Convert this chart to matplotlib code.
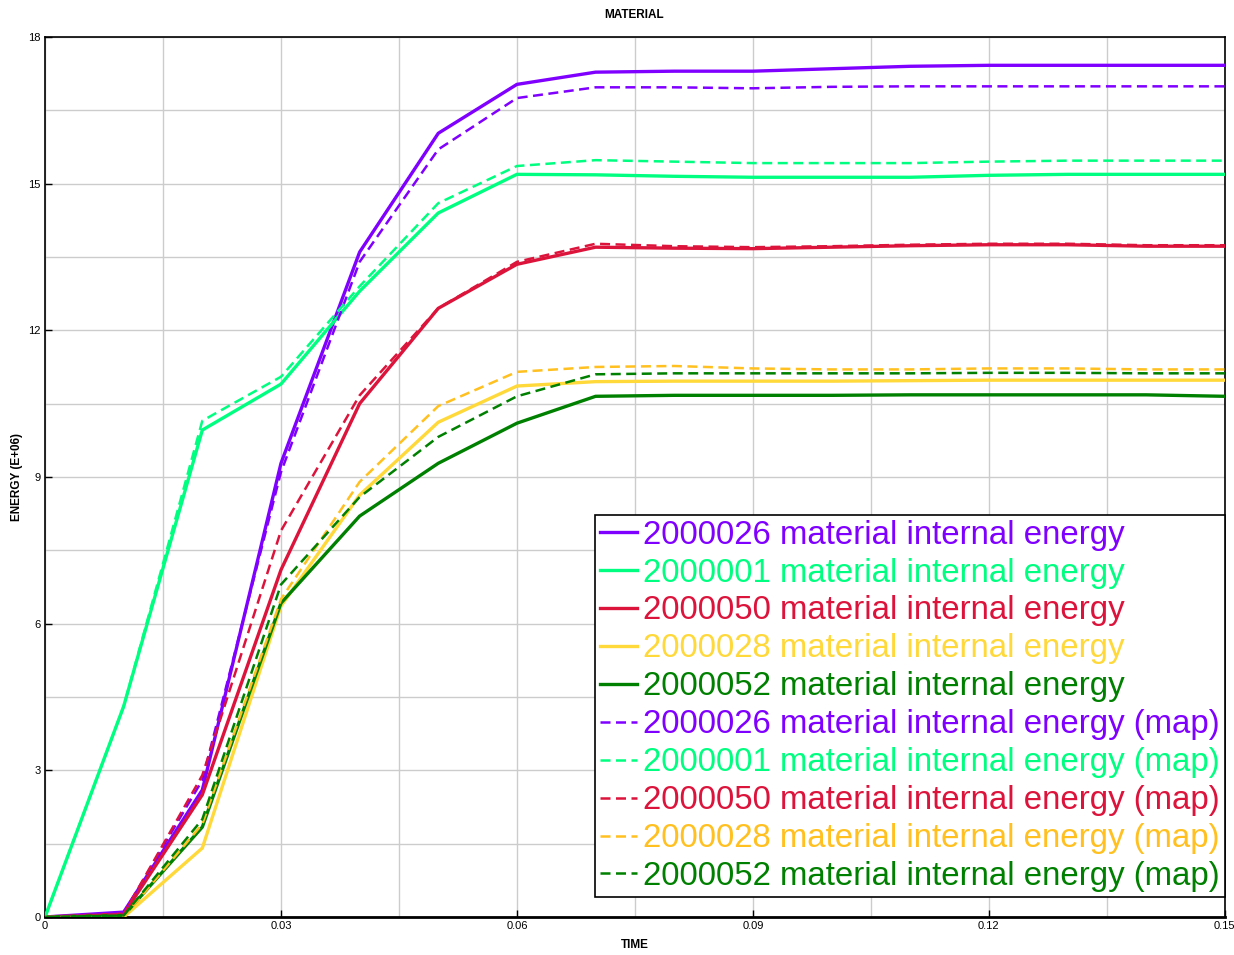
import matplotlib
matplotlib.use("Agg")
import matplotlib.pyplot as plt
from matplotlib.ticker import MultipleLocator, FuncFormatter

plt.rcParams["font.family"] = ["Liberation Sans", "DejaVu Sans"]

# time points
time = [0.0, 0.01, 0.02, 0.03, 0.04, 0.05, 0.06, 0.07, 0.08, 0.09, 0.10, 0.11, 0.12, 0.13, 0.14, 0.15]

# material internal energy (E+06)
e_2000026 = [0, 0.10, 2.60, 9.28, 13.60, 16.03, 17.03, 17.28, 17.30, 17.30, 17.35, 17.40, 17.42, 17.42, 17.42, 17.42]
e_2000001 = [0, 4.31, 9.96, 10.90, 12.80, 14.40, 15.19, 15.18, 15.15, 15.13, 15.13, 15.13, 15.17, 15.19, 15.19, 15.19]
e_2000050 = [0, 0.06, 2.50, 7.10, 10.50, 12.45, 13.35, 13.70, 13.68, 13.67, 13.70, 13.73, 13.75, 13.75, 13.72, 13.72]
e_2000028 = [0, 0.00, 1.41, 6.36, 8.63, 10.12, 10.86, 10.95, 10.96, 10.96, 10.96, 10.97, 10.98, 10.98, 10.98, 10.98]
e_2000052 = [0, 0.03, 1.84, 6.42, 8.20, 9.28, 10.10, 10.65, 10.67, 10.67, 10.67, 10.68, 10.68, 10.68, 10.68, 10.65]

m_2000026 = [0, 0.08, 2.80, 9.10, 13.40, 15.70, 16.75, 16.97, 16.97, 16.95, 16.98, 16.99, 16.99, 16.99, 16.99, 16.99]
m_2000001 = [0, 4.31, 10.15, 11.05, 12.90, 14.60, 15.36, 15.48, 15.45, 15.42, 15.42, 15.42, 15.45, 15.47, 15.47, 15.47]
m_2000050 = [0, 0.06, 2.90, 7.90, 10.67, 12.45, 13.40, 13.77, 13.72, 13.70, 13.72, 13.75, 13.77, 13.77, 13.74, 13.74]
m_2000028 = [0, 0.00, 1.90, 6.50, 8.90, 10.45, 11.15, 11.25, 11.27, 11.22, 11.20, 11.20, 11.22, 11.22, 11.20, 11.20]
m_2000052 = [0, 0.03, 2.00, 6.80, 8.59, 9.82, 10.65, 11.10, 11.12, 11.12, 11.12, 11.12, 11.13, 11.13, 11.12, 11.12]

ids = ["2000026", "2000001", "2000050", "2000028", "2000052"]
solid = [e_2000026, e_2000001, e_2000050, e_2000028, e_2000052]
mapped = [m_2000026, m_2000001, m_2000050, m_2000028, m_2000052]
solid_colors = ["#8000ff", "#00ff80", "#dc143c", "#ffd83a", "#008000"]
dash_colors = ["#8000ff", "#00ff80", "#dc143c", "#ffc020", "#008000"]

fig = plt.figure(figsize=(12.34, 9.55), dpi=100)
ax = fig.add_axes([0.0365, 0.0398, 0.956, 0.9215])

for i, cid in enumerate(ids):
    ax.plot(time, solid[i], color=solid_colors[i], lw=2.4,
            label=f"{cid} material internal energy", zorder=3)
for i, cid in enumerate(ids):
    ax.plot(time, mapped[i], color=dash_colors[i], lw=1.8, ls=(0, (4, 2.2)),
            label=f"{cid} material internal energy (map)", zorder=4)

ax.set_xlim(0, 0.15)
ax.set_ylim(0, 18)
ax.xaxis.set_major_locator(MultipleLocator(0.03))
ax.xaxis.set_minor_locator(MultipleLocator(0.015))
ax.yaxis.set_major_locator(MultipleLocator(3))
ax.yaxis.set_minor_locator(MultipleLocator(1.5))
ax.xaxis.set_major_formatter(FuncFormatter(lambda v, p: f"{v:g}"))
ax.grid(True, which="both", color="#cccccc", lw=1.0, zorder=0)
ax.set_axisbelow(True)
ax.tick_params(which="major", direction="in", length=5, width=1, labelsize=8, pad=3)
ax.tick_params(which="minor", length=0)
for s in ax.spines.values():
    s.set_linewidth(1.2)
ax.spines["bottom"].set_linewidth(2)

# title placed at fixed spot (axes title gets pushed up by the "18" label)
fig.text(0.514, 0.984, "MATERIAL", fontsize=8.5, fontweight="bold", ha="center", va="center")
ax.set_xlabel("TIME", fontsize=8.5, fontweight="bold", labelpad=6)
ax.set_ylabel("ENERGY (E+06)", fontsize=8.5, fontweight="bold", labelpad=4)

leg = ax.legend(loc="lower right", bbox_to_anchor=(1.0, 0.0227), borderaxespad=0,
                fontsize=23.8, handlelength=1.1, handletextpad=0.2, labelspacing=0.21,
                borderpad=0.15, fancybox=False, framealpha=1, edgecolor="black",
                labelcolor="linecolor")
leg.get_frame().set_linewidth(1.2)

fig.savefig("out.png", dpi=100)
